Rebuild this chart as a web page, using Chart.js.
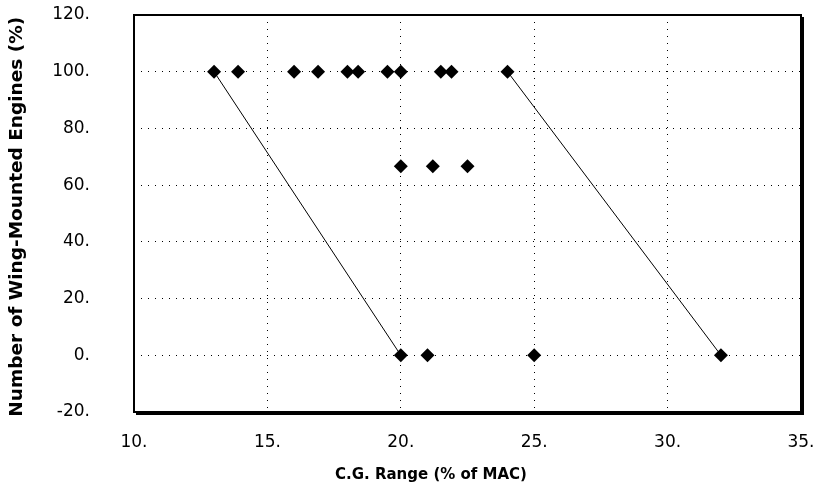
<!DOCTYPE html>
<html>
<head>
<meta charset="utf-8">
<script src="https://cdn.jsdelivr.net/npm/chart.js@4"></script>
<style>
  html, body { margin: 0; padding: 0; background: #fff; }
  #wrap { width: 813px; height: 488px; }
</style>
</head>
<body>
<div id="wrap"><canvas id="cg"></canvas></div>
<script>
// C.G. range vs share of wing-mounted engines
const topX = [13, 13.9, 16, 16.9, 18, 18.4, 19.5, 20, 21.5, 21.9, 24];
const topY = 100;
const midX = [20, 21.2, 22.5];
const midY = 66.7;
const zeroX = [20, 21, 25, 32];
const zeroY = 0;

const leftLineX = [13, 20];
const leftLineY = [100, 0];
const rightLineX = [24, 32];
const rightLineY = [100, 0];

const xTicks = [10, 15, 20, 25, 30, 35];
const yTicks = [-20, 0, 20, 40, 60, 80, 100, 120];

const pts = [
  ...topX.map(x => ({ x: x, y: topY })),
  ...midX.map(x => ({ x: x, y: midY })),
  ...zeroX.map(x => ({ x: x, y: zeroY }))
];

// frame around plot, with a drop shadow on bottom/right
const frame = {
  id: 'frame',
  afterDraw(chart) {
    const a = chart.chartArea;
    const ctx = chart.ctx;
    ctx.save();
    ctx.strokeStyle = '#000';
    ctx.lineWidth = 2;
    ctx.strokeRect(a.left, a.top, a.right - a.left, a.bottom - a.top);
    ctx.beginPath();
    ctx.moveTo(a.left + 2, a.bottom + 2);
    ctx.lineTo(a.right + 2, a.bottom + 2);
    ctx.lineTo(a.right + 2, a.top + 2);
    ctx.stroke();
    ctx.restore();
  }
};

const noPad = s => {
  s.paddingTop = 0;
  s.paddingBottom = 0;
  s.paddingLeft = 0;
  s.paddingRight = 0;
};

const tickFont = { family: 'DejaVu Sans', size: 17 };

new Chart(document.getElementById('cg'), {
  type: 'scatter',
  data: {
    datasets: [
      {
        data: pts,
        pointStyle: 'rectRot',
        pointRadius: 7,
        pointHoverRadius: 7,
        backgroundColor: '#000',
        borderColor: '#000',
        borderWidth: 0
      },
      {
        data: leftLineX.map((x, i) => ({ x: x, y: leftLineY[i] })),
        showLine: true,
        pointRadius: 0,
        borderColor: '#000',
        borderWidth: 1
      },
      {
        data: rightLineX.map((x, i) => ({ x: x, y: rightLineY[i] })),
        showLine: true,
        pointRadius: 0,
        borderColor: '#000',
        borderWidth: 1
      }
    ]
  },
  plugins: [frame],
  options: {
    responsive: true,
    maintainAspectRatio: false,
    animation: false,
    layout: { padding: { top: 15, right: 12, left: 0, bottom: 0 } },
    plugins: {
      legend: { display: false },
      tooltip: { enabled: false }
    },
    scales: {
      x: {
        type: 'linear',
        min: 10,
        max: 35,
        afterFit: s => { s.height = 76; noPad(s); },
        afterBuildTicks: s => { s.ticks = xTicks.map(v => ({ value: v })); },
        ticks: {
          color: '#000',
          font: tickFont,
          padding: 20,
          maxRotation: 0,
          callback: v => v + '.'
        },
        grid: {
          color: '#000',
          lineWidth: 1,
          drawTicks: false
        },
        border: { display: false, dash: [1, 6] },
        title: {
          display: true,
          // trailing spaces nudge the centred title left, as in the original
          text: 'C.G. Range (% of MAC)' + ' '.repeat(14),
          color: '#000',
          font: { family: 'DejaVu Sans', size: 15, weight: 'bold' },
          padding: { top: 0, bottom: 4 }
        }
      },
      y: {
        type: 'linear',
        min: -20,
        max: 120,
        afterFit: s => { s.width = 134; noPad(s); },
        afterBuildTicks: s => { s.ticks = yTicks.map(v => ({ value: v })); },
        ticks: {
          color: '#000',
          font: tickFont,
          padding: 44,
          callback: v => v + '.'
        },
        grid: {
          color: '#000',
          lineWidth: 1,
          drawTicks: false
        },
        border: { display: false, dash: [1, 6] },
        title: {
          display: true,
          text: 'Number of Wing-Mounted Engines (%) ',
          color: '#000',
          font: { family: 'DejaVu Sans', size: 18.5, weight: 'bold' },
          padding: { top: 6, bottom: 0 }
        }
      }
    }
  }
});
</script>
</body>
</html>
